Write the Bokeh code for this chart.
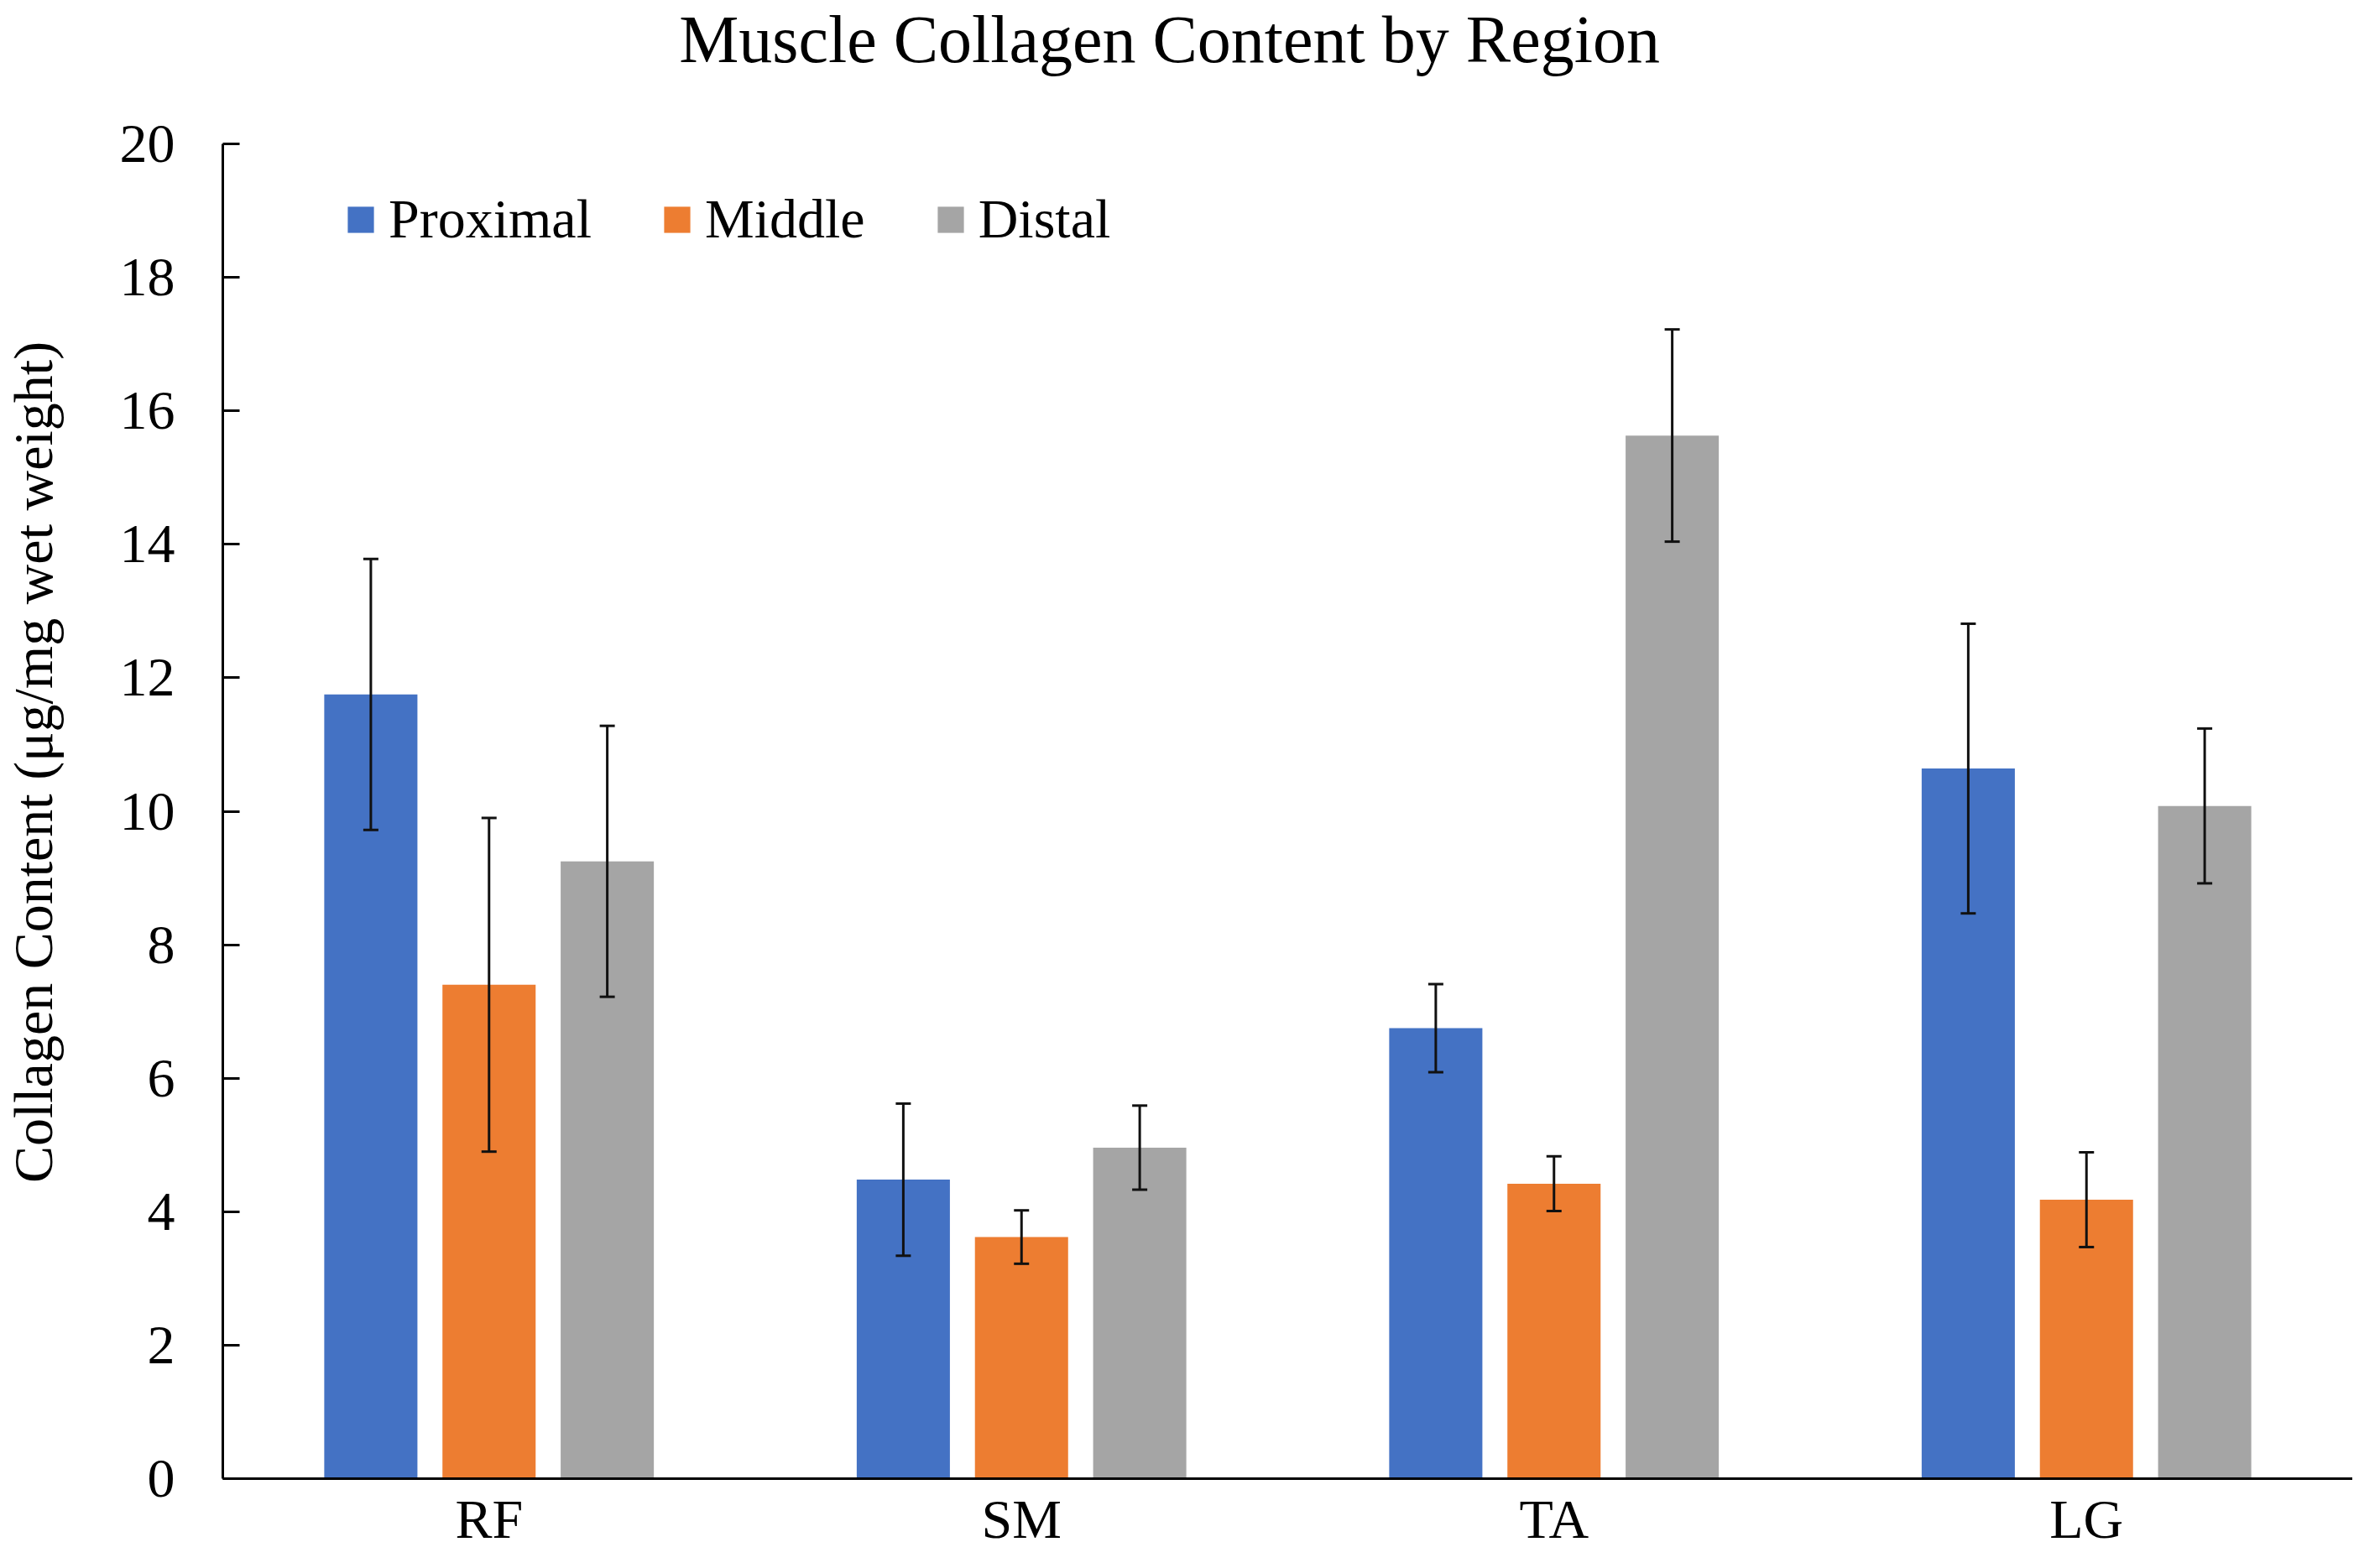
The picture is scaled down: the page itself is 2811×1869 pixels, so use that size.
import numpy as np
from bokeh.plotting import figure
from bokeh.layouts import row, column
from bokeh.core.properties import value
from bokeh.models import (ColumnDataSource, Whisker, TeeHead, Range1d, FixedTicker,
                          Legend, LegendItem)
from bokeh.embed import file_html
from bokeh.resources import INLINE

# ---- data ----
title_text = "Muscle Collagen Content by Region"
y_label_text = "Collagen Content (μg/mg wet weight)"
categories = ["RF", "SM", "TA", "LG"]
series_names = ["Proximal", "Middle", "Distal"]
proximal = [11.75, 4.48, 6.75, 10.64]
proximal_err = [2.03, 1.14, 0.66, 2.17]
middle = [7.40, 3.62, 4.42, 4.18]
middle_err = [2.50, 0.40, 0.41, 0.71]
distal = [9.25, 4.96, 15.63, 10.08]
distal_err = [2.03, 0.63, 1.59, 1.16]
y_ticks = list(range(0, 21, 2))

colors = ["#4472C4", "#ED7D31", "#A5A5A5"]
FONT = "Liberation Serif"
TXT = "#000000"

TOTAL_W, TOTAL_H = 2803, 1861
LAB_W = 100            # strip holding the rotated y-axis title
TITLE_H = 120          # strip holding the chart title
FRAME_L = 265 - LAB_W  # left border of the plotting frame inside the right column
FRAME_TOP, FRAME_BOTTOM = 171, 1762
MAIN_W = TOTAL_W - LAB_W
MAIN_H = TOTAL_H - TITLE_H
MAIN_MB = TOTAL_H - FRAME_BOTTOM


def strip(w, h, x_range, y_range, left=0):
    f = figure(width=w, height=h, x_range=x_range, y_range=y_range,
               x_axis_type=None, y_axis_type=None, output_backend="svg",
               toolbar_location=None, min_border_left=left, min_border_right=0,
               min_border_top=0, min_border_bottom=0,
               background_fill_color="white", border_fill_color="white")
    f.outline_line_color = None
    f.grid.visible = False
    return f


# ---- main chart ----
p = figure(width=MAIN_W, height=MAIN_H, x_range=Range1d(0, 4), y_range=Range1d(0, 20),
           output_backend="svg", toolbar_location=None,
           min_border_left=FRAME_L, min_border_right=0,
           min_border_top=FRAME_TOP - TITLE_H, min_border_bottom=MAIN_MB,
           background_fill_color="white", border_fill_color="white")
p.outline_line_color = None
p.grid.visible = False

offsets = [-0.222, 0.0, 0.222]
bar_w = 0.175
vals = [proximal, middle, distal]
errs = [proximal_err, middle_err, distal_err]
cat_x = [i + 0.5 for i in range(len(categories))]

items = []
for k, name in enumerate(series_names):
    xs = [c + offsets[k] for c in cat_x]
    top = vals[k]
    err = errs[k]
    src = ColumnDataSource(dict(x=xs, top=top,
                                upper=[t + e for t, e in zip(top, err)],
                                lower=[t - e for t, e in zip(top, err)]))
    r = p.vbar(x="x", top="top", bottom=0, width=bar_w, source=src,
               fill_color=colors[k], line_color=None)
    items.append(LegendItem(label=name, renderers=[r]))
    wh = Whisker(source=src, base="x", upper="upper", lower="lower",
                 line_width=3, line_color="#111111", level="annotation",
                 upper_head=TeeHead(size=18, line_width=3, line_color="#111111"),
                 lower_head=TeeHead(size=18, line_width=3, line_color="#111111"))
    p.add_layout(wh)

# axes
p.xaxis.ticker = FixedTicker(ticks=cat_x)
p.xaxis.major_label_overrides = {x: c for x, c in zip(cat_x, categories)}
p.xaxis.major_tick_line_color = None
p.xaxis.major_tick_out = 0
p.xaxis.major_tick_in = 0
p.xaxis.minor_tick_line_color = None
p.xaxis.major_label_standoff = 11
p.yaxis.ticker = FixedTicker(ticks=y_ticks)
p.yaxis.major_tick_in = 20
p.yaxis.major_tick_out = 0
p.yaxis.minor_tick_line_color = None
p.yaxis.major_label_standoff = 57
p.yaxis.major_tick_line_width = 3
p.yaxis.major_tick_line_color = "#000000"
for ax in (p.xaxis, p.yaxis):
    ax.axis_line_width = 3
    ax.axis_line_color = "#000000"
    ax.major_label_text_font = FONT
    ax.major_label_text_font_size = "66px"
    ax.major_label_text_color = TXT

legend = Legend(items=items, orientation="horizontal", location=(145, 1463),
                glyph_width=39, glyph_height=39, label_standoff=14, spacing=82,
                padding=0, margin=0, border_line_color=None, background_fill_alpha=0,
                label_text_font=FONT, label_text_font_size="66px", label_text_color=TXT)
p.add_layout(legend)

# ---- title strip (pixel coordinates) ----
tfig = strip(MAIN_W, TITLE_H, Range1d(FRAME_L, MAIN_W), Range1d(0, TITLE_H), left=FRAME_L)
tfig.text(x=[1393 - LAB_W], y=[TITLE_H - 46], text=[title_text],
          text_align="center", text_baseline="middle",
          text_font=value(FONT), text_font_size=value("80px"), text_color=TXT)

# ---- y label strip (pixel coordinates) ----
lfig = strip(LAB_W, TOTAL_H, Range1d(0, LAB_W), Range1d(0, TOTAL_H))
lfig.text(x=[39], y=[TOTAL_H - 908], text=[y_label_text], angle=np.pi / 2,
          text_align="center", text_baseline="middle",
          text_font=value(FONT), text_font_size=value("66px"), text_color=TXT)

layout = row(lfig, column(tfig, p, spacing=0), spacing=0)
open("out.html", "w").write(file_html(layout, INLINE))
